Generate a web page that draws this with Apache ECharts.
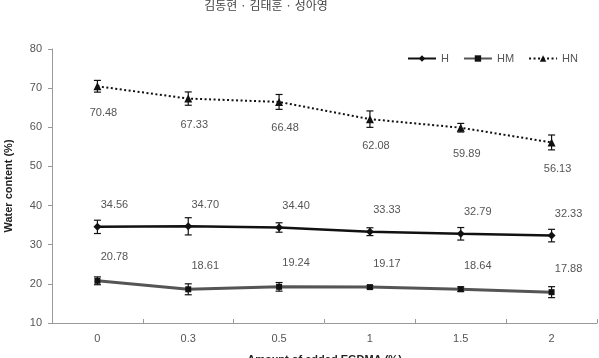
<!DOCTYPE html>
<html>
<head>
<meta charset="utf-8">
<script src="https://cdn.jsdelivr.net/npm/echarts@6/dist/echarts.min.js"></script>
<style>
  html, body { margin: 0; padding: 0; background: #fff; }
  #container { width: 599px; height: 358px; }
</style>
</head>
<body>
<div id="container"></div>
<script>
'use strict';
var categories = ['0', '0.3', '0.5', '1', '1.5', '2'];
var seriesNames = ['H', 'HM', 'HN'];
var valuesH = [34.56, 34.70, 34.40, 33.33, 32.79, 32.33];
var valuesHM = [20.78, 18.61, 19.24, 19.17, 18.64, 17.88];
var valuesHN = [70.48, 67.33, 66.48, 62.08, 59.89, 56.13];
var errorsH = [1.7, 2.2, 1.2, 1.0, 1.6, 1.6];
var errorsHM = [1.0, 1.4, 1.1, 0.4, 0.6, 1.4];
var errorsHN = [1.5, 1.7, 1.9, 2.1, 1.1, 1.9];
var headerText = '김동현 · 김태훈 · 성아영';

var dom = document.getElementById('container');
var myChart = echarts.init(dom, null, { renderer: 'canvas' });

function errData(values, errors) {
    return values.map(function (v, i) { return [i, v, errors[i]]; });
}

function errSeries(values, errors) {
    return {
        type: 'custom',
        silent: true,
        z: 3,
        data: errData(values, errors),
        renderItem: function (params, api) {
            var i = api.value(0);
            var v = api.value(1);
            var e = api.value(2);
            var top = api.coord([i, v + e]);
            var bot = api.coord([i, v - e]);
            var hw = 3.5;
            var st = { stroke: '#111', lineWidth: 1.2 };
            return {
                type: 'group',
                children: [
                    { type: 'line', shape: { x1: top[0], y1: top[1], x2: bot[0], y2: bot[1] }, style: st },
                    { type: 'line', shape: { x1: top[0] - hw, y1: top[1], x2: top[0] + hw, y2: top[1] }, style: st },
                    { type: 'line', shape: { x1: bot[0] - hw, y1: bot[1], x2: bot[0] + hw, y2: bot[1] }, style: st }
                ]
            };
        }
    };
}

var labelFont = { color: '#555', fontSize: 11, fontFamily: 'Liberation Sans, Arial, sans-serif' };

var option = {
    animation: false,
    backgroundColor: '#fff',
    graphic: [{
        type: 'text',
        x: 266, y: 5,
        style: {
            text: headerText,
            fill: '#444',
            font: '12px "Noto Sans CJK KR", sans-serif',
            textAlign: 'center',
            textVerticalAlign: 'middle'
        }
    }],
    legend: {
        data: seriesNames,
        left: 402,
        top: 48,
        itemWidth: 28,
        itemHeight: 8,
        itemGap: 14,
        textStyle: { color: '#555', fontSize: 11, fontFamily: 'Liberation Sans, Arial, sans-serif' }
    },
    grid: { left: 52, right: 2, top: 49, bottom: 35, outerBoundsMode: 'none', containLabel: false },
    xAxis: {
        type: 'category',
        data: categories,
        boundaryGap: true,
        name: 'Amount of added EGDMA (%)',
        nameLocation: 'middle',
        nameGap: 31,
        nameTextStyle: { color: '#222', fontSize: 11, fontWeight: 'bold', fontFamily: 'Liberation Sans, Arial, sans-serif' },
        axisLine: { lineStyle: { color: '#999', width: 1 } },
        axisTick: { show: true, inside: true, length: 4, lineStyle: { color: '#999' } },
        axisLabel: { color: '#555', fontSize: 11, margin: 10, fontFamily: 'Liberation Sans, Arial, sans-serif' },
        splitLine: { show: false }
    },
    yAxis: {
        type: 'value',
        min: 10,
        max: 80,
        interval: 10,
        name: 'Water content (%)',
        nameLocation: 'middle',
        nameGap: 38,
        nameTextStyle: { color: '#222', fontSize: 11, fontWeight: 'bold', fontFamily: 'Liberation Sans, Arial, sans-serif' },
        axisLine: { show: true, lineStyle: { color: '#999', width: 1 } },
        axisTick: { show: true, inside: false, length: 4, lineStyle: { color: '#999' } },
        axisLabel: { color: '#555', fontSize: 11, margin: 10, fontFamily: 'Liberation Sans, Arial, sans-serif' },
        splitLine: { show: false }
    },
    series: [
        {
            name: 'H',
            type: 'line',
            data: valuesH,
            symbol: 'diamond',
            symbolSize: 8,
            z: 4,
            itemStyle: { color: '#111' },
            lineStyle: { color: '#111', width: 2.5 },
            label: Object.assign({
                show: true, position: 'top', distance: 0, offset: [17, -12],
                formatter: function (p) { return p.value.toFixed(2); }
            }, labelFont)
        },
        {
            name: 'HM',
            type: 'line',
            data: valuesHM,
            symbol: 'rect',
            symbolSize: 6,
            z: 4,
            itemStyle: { color: '#111' },
            lineStyle: { color: '#555', width: 3 },
            label: Object.assign({
                show: true, position: 'top', distance: 0, offset: [17, -15],
                formatter: function (p) { return p.value.toFixed(2); }
            }, labelFont)
        },
        {
            name: 'HN',
            type: 'line',
            data: valuesHN,
            symbol: 'triangle',
            symbolSize: 8,
            z: 4,
            itemStyle: { color: '#111' },
            lineStyle: { color: '#111', width: 2, type: [2, 2.5] },
            label: Object.assign({
                show: true, position: 'bottom', distance: 0, offset: [6, 17],
                formatter: function (p) { return p.value.toFixed(2); }
            }, labelFont)
        },
        errSeries(valuesH, errorsH),
        errSeries(valuesHM, errorsHM),
        errSeries(valuesHN, errorsHN)
    ]
};
myChart.setOption(option);
</script>
</body>
</html>
